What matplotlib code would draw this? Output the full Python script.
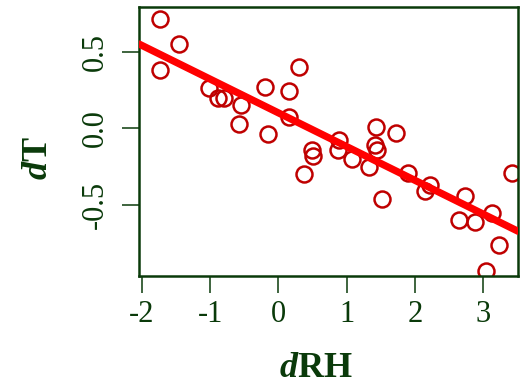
import numpy as np
import matplotlib
matplotlib.use("Agg")
import matplotlib.pyplot as plt

# values
d_rh = [-1.73, -1.46, -1.73, -1.02, -0.88, -0.80, -0.55, -0.58, -0.20, -0.15,
        0.16, 0.30, 0.16, 0.37, 0.49, 0.50, 0.88, 0.87, 1.07, 1.32,
        1.43, 1.42, 1.45, 1.72, 1.51, 1.90, 2.14, 2.22, 2.73, 2.64,
        2.88, 3.13, 3.23, 3.04, 3.42]
d_t = [0.71, 0.55, 0.38, 0.26, 0.20, 0.20, 0.15, 0.03, 0.27, -0.04,
       0.24, 0.40, 0.07, -0.30, -0.14, -0.18, -0.08, -0.14, -0.20, -0.25,
       0.01, -0.11, -0.14, -0.03, -0.46, -0.29, -0.41, -0.37, -0.44, -0.60,
       -0.61, -0.55, -0.76, -0.93, -0.29]
fit_intercept = 0.10
fit_slope = -0.22

x_ticks = [-2, -1, 0, 1, 2, 3]
y_ticks = [-0.5, 0.0, 0.5]
y_tick_labels = ["-0.5", "0.0", "0.5"]

ink = "#0a3a0a"
plt.rcParams["font.family"] = "Liberation Serif"
plt.rcParams["mathtext.fontset"] = "custom"
plt.rcParams["mathtext.it"] = "Liberation Serif:bold:italic"
plt.rcParams["mathtext.rm"] = "Liberation Serif:bold"

fig = plt.figure(figsize=(5.25, 3.87), dpi=100)
ax = fig.add_axes([0.265, 0.287, 0.722, 0.696])

# data points and fitted line
ax.plot(d_rh, d_t, "o", mfc="none", mec="#bf0000", ms=11.5, mew=1.8, zorder=2)
ax.axline((0, fit_intercept), slope=fit_slope, color="#ff0000", lw=5.2,
          solid_capstyle="round", zorder=3)

ax.set_xlim(-2.04, 3.51)
ax.set_ylim(-0.963, 0.793)
ax.set_xticks(x_ticks)
ax.set_xticklabels([str(v) for v in x_ticks])
ax.set_yticks(y_ticks)
ax.set_yticklabels(y_tick_labels, va="center")

for s in ax.spines.values():
    s.set_color(ink)
    s.set_linewidth(1.8)
ax.tick_params(axis="both", colors=ink, labelcolor=ink, length=12, width=1.1,
               labelsize=22)
ax.tick_params(axis="x", pad=5)
ax.tick_params(axis="y", labelrotation=90, pad=9)

ax.set_xlabel(r"$d$RH", fontsize=26, fontweight="bold", color=ink, va="center")
ax.set_ylabel(r"$d$T", fontsize=26, fontweight="bold", color=ink, va="center")
ax.xaxis.set_label_coords(0.466, -0.342)
ax.yaxis.set_label_coords(-0.266, 0.438)

fig.savefig("out.png", dpi=100)
